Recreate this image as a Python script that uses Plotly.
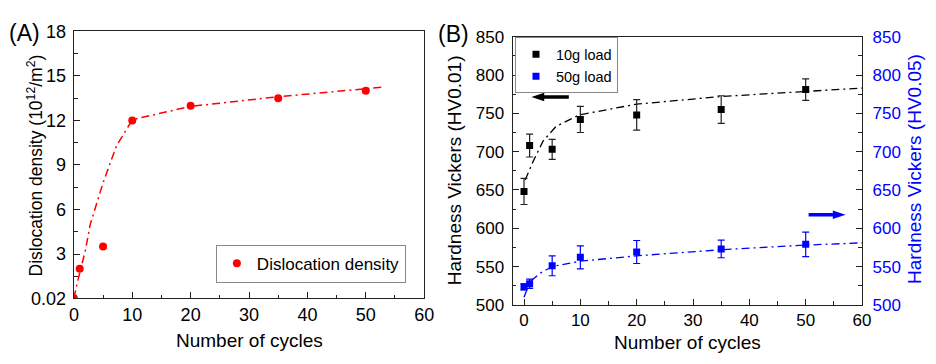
import plotly.graph_objects as go

# ---- Data: panel (A) ----
cycles_a = [0, 1, 5, 10, 20, 35, 50]
disloc = [0.02, 2.0, 3.5, 12.0, 13.0, 13.5, 14.0]
fit_a_x = [0, 0.55, 2, 2.8, 5, 7.3, 9.8, 10.5, 20, 35, 52.8]
fit_a_y = [0.02, 1.0, 3.3, 5.0, 7.8, 10.3, 11.9, 12.1, 12.95, 13.6, 14.24]

# ---- Data: panel (B) ----
cycles_b = [0, 1, 5, 10, 20, 35, 50]
hv10 = [648, 708, 703, 742, 748, 755, 781]
hv10_err = [17, 15, 13, 17, 20, 18, 14]
hv50 = [523.5, 527.5, 551, 562, 569, 573, 579]
hv50_err = [4, 6, 13, 15, 15, 11.5, 16]
fit10_x = [0.2, 1.6, 3.4, 5.7, 9.8, 20, 35, 47.6, 60]
fit10_y = [663, 687, 714, 733, 748, 762, 772, 778, 783]
fit50_x = [0, 1.05, 2.8, 5, 10, 20, 35, 50, 60]
fit50_y = [510, 530, 541, 550, 557, 564, 572, 578, 581]

FONT = "Arial, 'Liberation Sans', sans-serif"
DASH = "8px,4px,2px,4px"
AX = "#222"
W, H = 936, 364

fig = go.Figure()

fig.add_trace(go.Scatter(x=fit_a_x, y=fit_a_y, mode="lines",
                         line=dict(color="red", width=1.5, dash=DASH),
                         showlegend=False, xaxis="x", yaxis="y"))
fig.add_trace(go.Scatter(x=cycles_a, y=disloc, mode="markers", name="Dislocation density",
                         marker=dict(color="red", size=8, symbol="circle"),
                         xaxis="x", yaxis="y", legend="legend"))

fig.add_trace(go.Scatter(x=fit10_x, y=fit10_y, mode="lines",
                         line=dict(color="black", width=1.3, dash=DASH),
                         showlegend=False, xaxis="x2", yaxis="y2"))
fig.add_trace(go.Scatter(x=fit50_x, y=fit50_y, mode="lines",
                         line=dict(color="blue", width=1.3, dash=DASH),
                         showlegend=False, xaxis="x2", yaxis="y3"))
fig.add_trace(go.Scatter(x=cycles_b, y=hv10, mode="markers", name="10g load",
                         marker=dict(color="black", size=7, symbol="square"),
                         error_y=dict(type="data", array=hv10_err, color="#222", thickness=1.2, width=3.5),
                         xaxis="x2", yaxis="y2", legend="legend2"))
fig.add_trace(go.Scatter(x=cycles_b, y=hv50, mode="markers", name="50g load",
                         marker=dict(color="blue", size=7, symbol="square"),
                         error_y=dict(type="data", array=hv50_err, color="blue", thickness=1.2, width=3.5),
                         xaxis="x2", yaxis="y3", legend="legend2"))

common = dict(showline=True, linecolor=AX, linewidth=1.3, mirror=True, ticks="inside",
              ticklen=6, tickcolor=AX, tickwidth=1.2, showgrid=False, zeroline=False)

ya_vals = [0.02, 3, 6, 9, 12, 15, 18]
ya_text = ["0.02", "3", "6", "9", "12", "15", "18"]

fig.update_layout(
    width=W, height=H, margin=dict(l=0, r=0, t=0, b=0),
    paper_bgcolor="white", plot_bgcolor="white",
    font=dict(family=FONT, color="black"),
    xaxis=dict(domain=[70/W, 426/W], range=[0, 60], tickvals=[0, 10, 20, 30, 40, 50, 60],
               tickfont=dict(size=18), anchor="y",
               minor=dict(ticks="inside", ticklen=3.5, tickvals=[5, 15, 25, 35, 45, 55], tickcolor=AX),
               **common),
    yaxis=dict(domain=[1-305/H, 1-22.7/H], range=[0.02, 18], tickvals=ya_vals, ticktext=ya_text,
               tickfont=dict(size=18), anchor="x", ticklabelstandoff=3,
               minor=dict(ticks="inside", ticklen=3.5, tickvals=[1.5, 4.5, 7.5, 10.5, 13.5, 16.5], tickcolor=AX),
               **common),
    xaxis2=dict(domain=[516/W, 871/W], range=[-2, 60], tickvals=[0, 10, 20, 30, 40, 50, 60],
                tickfont=dict(size=17), anchor="y2",
                minor=dict(ticks="inside", ticklen=3.5, tickvals=[5, 15, 25, 35, 45, 55], tickcolor=AX),
                **common),
    yaxis2=dict(domain=[1-312/H, 1-28.3/H], range=[500, 850], dtick=50,
                tickfont=dict(size=17), anchor="x2", ticklabelstandoff=4,
                minor=dict(ticks="inside", ticklen=3.5, dtick=25, tick0=500, tickcolor=AX),
                **common),
    yaxis3=dict(overlaying="y2", side="right", anchor="x2", range=[500, 850], dtick=50,
                tickfont=dict(size=17, color="blue"), ticklabelstandoff=6,
                showline=True, linecolor=AX, linewidth=1.3, ticks="inside", ticklen=6,
                tickcolor=AX, tickwidth=1.2, showgrid=False, zeroline=False,
                minor=dict(ticks="inside", ticklen=3.5, dtick=25, tick0=500, tickcolor=AX)),
    legend=dict(x=214.3/W, y=1-248.3/H, xanchor="left", yanchor="top",
                bordercolor="#888", borderwidth=1, bgcolor="white",
                font=dict(size=17), itemwidth=30, tracegroupgap=0),
    legend2=dict(x=518.3/W, y=1-29/H, xanchor="left", yanchor="top",
                 bordercolor="#888", borderwidth=1, bgcolor="rgba(255,255,255,0.9)",
                 font=dict(size=14.5), itemwidth=30, tracegroupgap=0),
)

ann = [
    dict(text="(A)", x=20/W, y=1-24/H, font=dict(size=23)),
    dict(text="(B)", x=456/W, y=1-25/H, font=dict(size=23)),
    dict(text="Dislocation density (10<sup>12</sup>/m<sup>2</sup>)", x=30/W, y=1-165/H,
         textangle=-90, font=dict(size=17.5)),
    dict(text="Number of cycles", x=248/W, y=1-350/H, font=dict(size=19)),
    dict(text="Number of cycles", x=694/W, y=1-352/H, font=dict(size=19)),
    dict(text="Hardness Vickers (HV0.01)", x=457/W, y=1-170/H, textangle=-90, font=dict(size=19)),
    dict(text="Hardness Vickers (HV0.05)", x=925/W, y=1-168/H, textangle=-90,
         font=dict(size=19, color="blue")),
]
for a in ann:
    fig.add_annotation(xref="paper", yref="paper", showarrow=False, xanchor="center", yanchor="middle", **a)


def arrow(tip_x, tail_x, y, color):
    d = 1 if tail_x > tip_x else -1
    head_len, head_half, shaft = 13, 4.5, 1.8
    base = tip_x + d * head_len
    pts = [(tip_x, y), (base, y - head_half), (base, y - shaft), (tail_x, y - shaft),
           (tail_x, y + shaft), (base, y + shaft), (base, y + head_half)]
    path = "M " + " L ".join(f"{px/W:.5f},{1-py/H:.5f}" for px, py in pts) + " Z"
    fig.add_shape(type="path", xref="paper", yref="paper", path=path, layer="above",
                  fillcolor=color, line=dict(width=0))


arrow(535, 573, 92, "black")
arrow(854.3, 816.7, 216.7, "blue")

fig.write_html("out.html", config={"displayModeBar": False},
               post_script="document.body.style.margin='0px';")
